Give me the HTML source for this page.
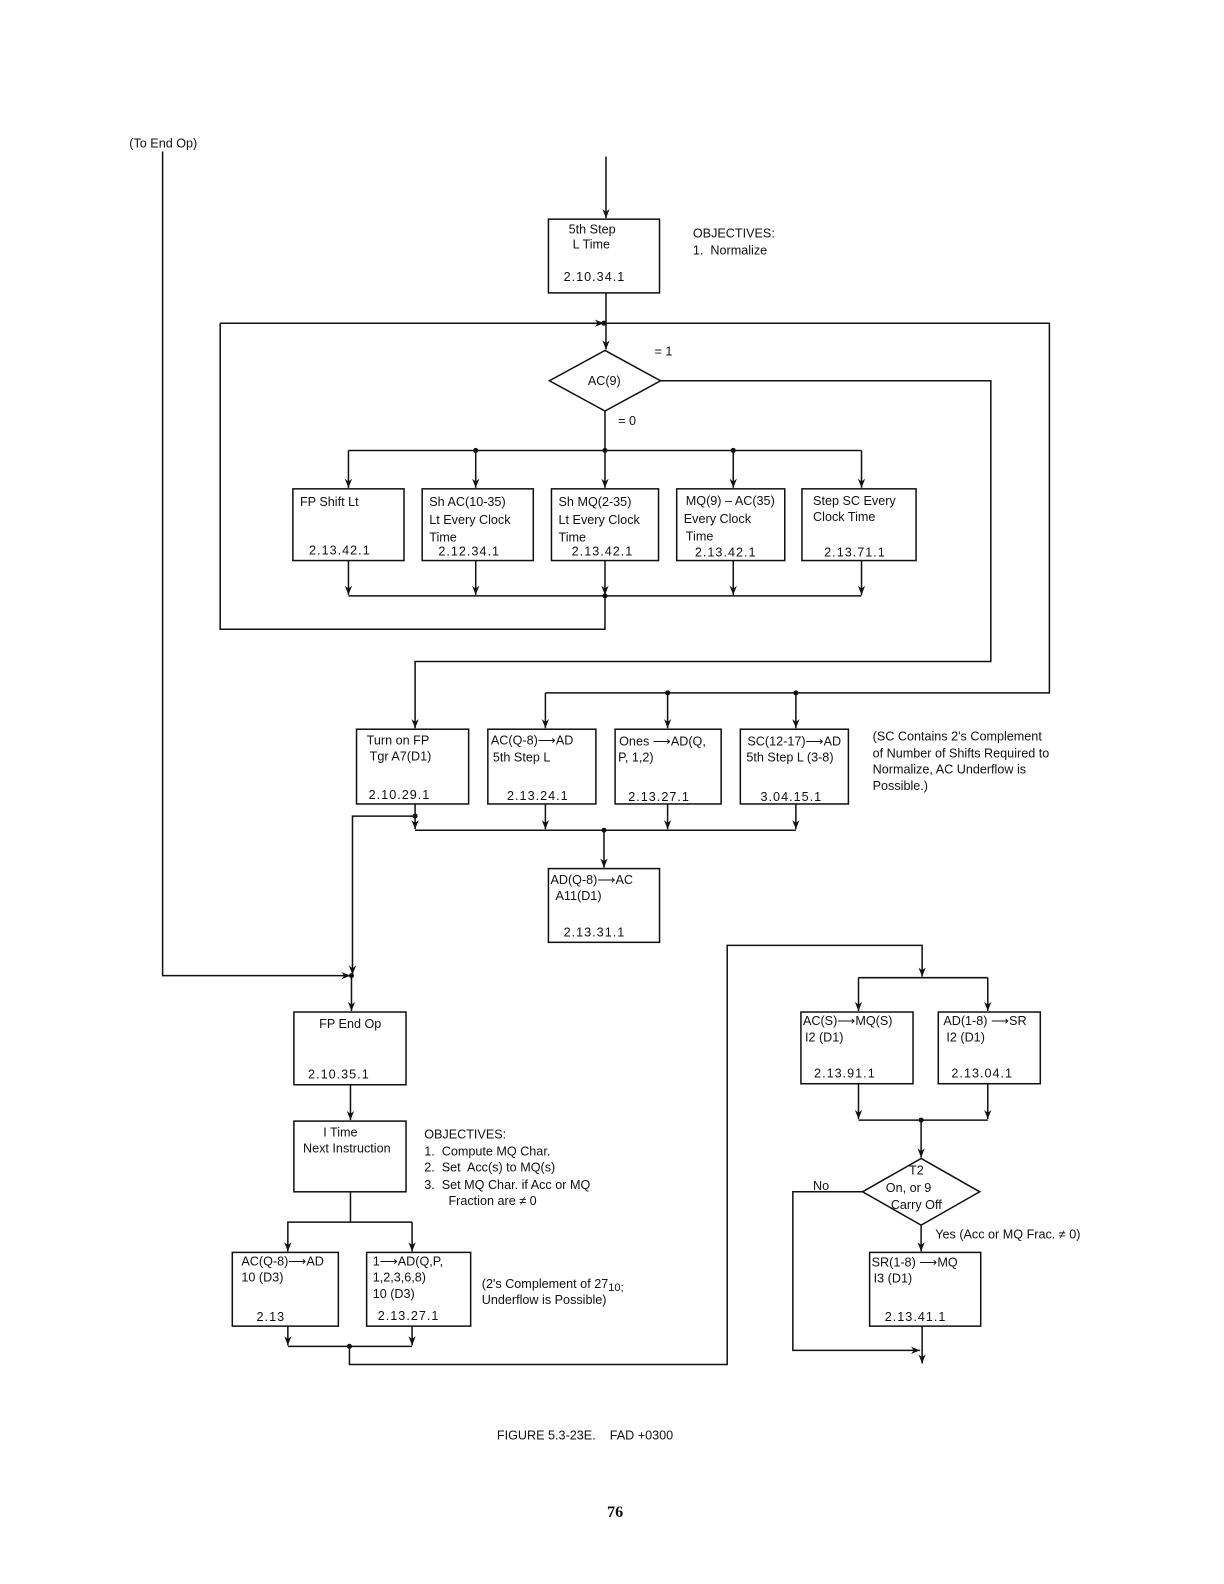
<!DOCTYPE html>
<html><head><meta charset="utf-8"><style>
html,body{margin:0;padding:0;background:#fff;}
svg{display:block;}
text{font-family:"Liberation Sans",sans-serif;font-size:12.5px;fill:#111;white-space:pre;}
</style></head><body>
<svg width="1224" height="1584" viewBox="0 0 1224 1584" xmlns="http://www.w3.org/2000/svg" xml:space="preserve">
<defs>
<marker id="a" viewBox="0 0 10 10" refX="10" refY="5" markerWidth="9" markerHeight="12" markerUnits="userSpaceOnUse" orient="auto"><path d="M0,1 L10,5 L0,9 L3,5 z" fill="#111"/></marker>
</defs>
<g transform="scale(1.01)" stroke="#111" stroke-width="1.5" fill="none">
<rect x="543" y="217" width="110" height="73"/>
<rect x="290" y="484" width="110" height="71"/>
<rect x="418" y="484" width="110" height="71"/>
<rect x="546" y="484" width="106" height="71"/>
<rect x="670" y="484" width="107" height="71"/>
<rect x="794" y="484" width="113" height="71"/>
<rect x="353" y="722" width="111" height="74"/>
<rect x="483" y="722" width="107" height="74"/>
<rect x="609" y="722" width="105" height="74"/>
<rect x="733" y="722" width="107" height="74"/>
<rect x="543" y="860" width="110" height="73"/>
<rect x="291" y="1002" width="111" height="72"/>
<rect x="291" y="1110" width="111" height="70"/>
<rect x="230" y="1240" width="105" height="73"/>
<rect x="363" y="1240" width="103" height="73"/>
<rect x="793" y="1002" width="111" height="71"/>
<rect x="929" y="1002" width="101" height="71"/>
<rect x="861" y="1240" width="110" height="73"/>
<polygon points="599,347 654,377 599,407 544,377"/>
<polygon points="912,1147 970,1180 912,1213 854,1180"/>
<path d="M600 155 V216" marker-end="url(#a)"/>
<path d="M600 290 V346" marker-end="url(#a)"/>
<path d="M218 320 H598" marker-end="url(#a)"/>
<path d="M598 320 H1039 V686 H540"/>
<path d="M540 686 V721" marker-end="url(#a)"/>
<path d="M661 686 V721" marker-end="url(#a)"/>
<path d="M788 686 V721" marker-end="url(#a)"/>
<path d="M218 320 V623 H599 V590"/>
<path d="M654 377 H981 V655 H411 V721" marker-end="url(#a)"/>
<path d="M599 407 V446"/>
<path d="M345 446 H853"/>
<path d="M345 446 V483" marker-end="url(#a)"/>
<path d="M471 446 V483" marker-end="url(#a)"/>
<path d="M599 446 V483" marker-end="url(#a)"/>
<path d="M726 446 V483" marker-end="url(#a)"/>
<path d="M853 446 V483" marker-end="url(#a)"/>
<path d="M345 555 V589" marker-end="url(#a)"/>
<path d="M471 555 V589" marker-end="url(#a)"/>
<path d="M599 555 V589" marker-end="url(#a)"/>
<path d="M726 555 V589" marker-end="url(#a)"/>
<path d="M853 555 V589" marker-end="url(#a)"/>
<path d="M345 590 H853"/>
<path d="M411 796 V821" marker-end="url(#a)"/>
<path d="M540 796 V821" marker-end="url(#a)"/>
<path d="M661 796 V821" marker-end="url(#a)"/>
<path d="M788 796 V821" marker-end="url(#a)"/>
<path d="M411 822 H788"/>
<path d="M598 822 V859" marker-end="url(#a)"/>
<path d="M411 808 H349 V965" marker-end="url(#a)"/>
<path d="M161 150 V966 H347" marker-end="url(#a)"/>
<path d="M348 966 V1001" marker-end="url(#a)"/>
<path d="M347 1074 V1109" marker-end="url(#a)"/>
<path d="M347 1180 V1210 H408"/>
<path d="M347 1210 H285 V1239" marker-end="url(#a)"/>
<path d="M408 1210 V1239" marker-end="url(#a)"/>
<path d="M285 1313 V1332" marker-end="url(#a)"/>
<path d="M408 1313 V1332" marker-end="url(#a)"/>
<path d="M285 1333 H408"/>
<path d="M346 1333 V1351 H720 V936 H913 V967" marker-end="url(#a)"/>
<path d="M850 968 H978"/>
<path d="M850 968 V1001" marker-end="url(#a)"/>
<path d="M978 968 V1001" marker-end="url(#a)"/>
<path d="M850 1073 V1108" marker-end="url(#a)"/>
<path d="M978 1073 V1108" marker-end="url(#a)"/>
<path d="M850 1109 H978"/>
<path d="M912 1109 V1146" marker-end="url(#a)"/>
<path d="M912 1213 V1239" marker-end="url(#a)"/>
<path d="M854 1180 H785 V1337 H911" marker-end="url(#a)"/>
<path d="M913 1313 V1350" marker-end="url(#a)"/>
</g>
<g transform="scale(1.01)" fill="#111">
<circle cx="598" cy="320" r="2.5"/>
<circle cx="471" cy="446" r="2.5"/><circle cx="599" cy="446" r="2.5"/><circle cx="726" cy="446" r="2.5"/>
<circle cx="599" cy="590" r="2.5"/>
<circle cx="661" cy="686" r="2.5"/><circle cx="788" cy="686" r="2.5"/>
<circle cx="411" cy="808" r="2.5"/><circle cx="598" cy="822" r="2.5"/>
<circle cx="348" cy="966" r="2.5"/>
<circle cx="346" cy="1333" r="2.5"/>
<circle cx="912" cy="1109" r="2.5"/>
</g>
<g transform="scale(1.01)">
<text x="128" y="146">(To End Op)</text>
<text x="563" y="231">5th Step</text>
<text x="567" y="246">L Time</text>
<text x="558" y="278" letter-spacing="1">2.10.34.1</text>
<text x="686" y="235">OBJECTIVES:</text>
<text x="686" y="252">1.  Normalize</text>
<text x="648" y="352">= 1</text>
<text x="582" y="381">AC(9)</text>
<text x="612" y="421">= 0</text>
<text x="297" y="501">FP Shift Lt</text>
<text x="306" y="549" letter-spacing="1">2.13.42.1</text>
<text x="425" y="501">Sh AC(10-35)</text>
<text x="425" y="519">Lt Every Clock</text>
<text x="425" y="536">Time</text>
<text x="434" y="550" letter-spacing="1">2.12.34.1</text>
<text x="553" y="501">Sh MQ(2-35)</text>
<text x="553" y="519">Lt Every Clock</text>
<text x="553" y="536">Time</text>
<text x="566" y="550" letter-spacing="1">2.13.42.1</text>
<text x="679" y="500">MQ(9) – AC(35)</text>
<text x="677" y="518">Every Clock</text>
<text x="679" y="535">Time</text>
<text x="688" y="551" letter-spacing="1">2.13.42.1</text>
<text x="805" y="500">Step SC Every</text>
<text x="805" y="516">Clock Time</text>
<text x="816" y="551" letter-spacing="1">2.13.71.1</text>
<text x="363" y="737">Turn on FP</text>
<text x="366" y="753">Tgr A7(D1)</text>
<text x="365" y="791" letter-spacing="1">2.10.29.1</text>
<text x="486" y="737">AC(Q-8)⟶AD</text>
<text x="488" y="754">5th Step L</text>
<text x="502" y="792" letter-spacing="1">2.13.24.1</text>
<text x="613" y="738">Ones ⟶AD(Q,</text>
<text x="612" y="754">P, 1,2)</text>
<text x="622" y="793" letter-spacing="1">2.13.27.1</text>
<text x="740" y="738">SC(12-17)⟶AD</text>
<text x="739" y="754">5th Step L (3-8)</text>
<text x="753" y="793" letter-spacing="1">3.04.15.1</text>
<text x="864" y="733">(SC Contains 2's Complement</text>
<text x="864" y="750">of Number of Shifts Required to</text>
<text x="864" y="766">Normalize, AC Underflow is</text>
<text x="864" y="782">Possible.)</text>
<text x="545" y="875">AD(Q-8)⟶AC</text>
<text x="550" y="891">A11(D1)</text>
<text x="558" y="927" letter-spacing="1">2.13.31.1</text>
<text x="316" y="1018">FP End Op</text>
<text x="305" y="1068" letter-spacing="1">2.10.35.1</text>
<text x="320" y="1125">I Time</text>
<text x="300" y="1141">Next Instruction</text>
<text x="420" y="1127">OBJECTIVES:</text>
<text x="420" y="1144">1.  Compute MQ Char.</text>
<text x="420" y="1160">2.  Set  Acc(s) to MQ(s)</text>
<text x="420" y="1177">3.  Set MQ Char. if Acc or MQ</text>
<text x="444" y="1193">Fraction are ≠ 0</text>
<text x="239" y="1253">AC(Q-8)⟶AD</text>
<text x="239" y="1269">10 (D3)</text>
<text x="254" y="1308" letter-spacing="1">2.13</text>
<text x="369" y="1253">1⟶AD(Q,P,</text>
<text x="369" y="1269">1,2,3,6,8)</text>
<text x="369" y="1285">10 (D3)</text>
<text x="374" y="1307" letter-spacing="1">2.13.27.1</text>
<text x="477" y="1275">(2's Complement of 27<tspan font-size="11" dy="3">10;</tspan></text>
<text x="477" y="1291">Underflow is Possible)</text>
<text x="795" y="1015">AC(S)⟶MQ(S)</text>
<text x="797" y="1031">I2 (D1)</text>
<text x="806" y="1067" letter-spacing="1">2.13.91.1</text>
<text x="934" y="1015">AD(1-8) ⟶SR</text>
<text x="937" y="1031">I2 (D1)</text>
<text x="942" y="1067" letter-spacing="1">2.13.04.1</text>
<text x="900" y="1163">T2</text>
<text x="877" y="1180">On, or 9</text>
<text x="882" y="1197">Carry Off</text>
<text x="805" y="1178">No</text>
<text x="926" y="1226">Yes (Acc or MQ Frac. ≠ 0)</text>
<text x="863" y="1254">SR(1-8) ⟶MQ</text>
<text x="865" y="1270">I3 (D1)</text>
<text x="876" y="1308" letter-spacing="1">2.13.41.1</text>
<text x="492" y="1425">FIGURE 5.3-23E.    FAD +0300</text>
<text x="601" y="1502" style="font-family:'Liberation Serif',serif;font-size:16px;font-weight:bold">76</text>
</g>
</svg>
</body></html>
